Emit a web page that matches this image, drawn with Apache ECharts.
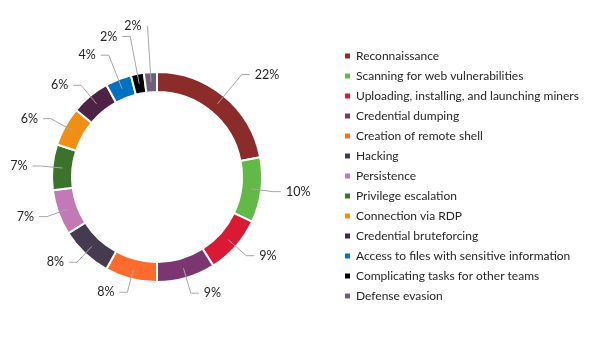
<!DOCTYPE html>
<html>
<head>
<meta charset="utf-8">
<script src="https://cdn.jsdelivr.net/npm/echarts@6/dist/echarts.min.js"></script>
<style>
  html, body { margin: 0; padding: 0; background: #fff; }
  #chart { width: 600px; height: 351px; }
</style>
</head>
<body>
<div id="chart"></div>
<script>
const categories = [
  'Reconnaissance',
  'Scanning for web vulnerabilities',
  'Uploading, installing, and launching miners',
  'Credential dumping',
  'Creation of remote shell',
  'Hacking',
  'Persistence',
  'Privilege escalation',
  'Connection via RDP',
  'Credential bruteforcing',
  'Access to files with sensitive information',
  'Complicating tasks for other teams',
  'Defense evasion'
]
const shares = [22, 10, 9, 9, 8, 8, 7, 7, 6, 6, 4, 2, 2]

const palette = [
  '#8b2c2a', '#62b946', '#da1a35', '#7b3570', '#ff6b2c', '#453a4e', '#c379b5',
  '#3a7329', '#f18f13', '#4d2244', '#0070c0', '#000000', '#6e6079'
]
// leader line segment lengths per slice
const leaderLen = [38, 22, 24, 26, 24, 22, 22, 22, 26, 24, 36, 48, 56]
const leaderLen2 = [8, 8, 8, 8, 8, 8, 8, 8, 8, 8, 8, 8, 1]

const chart = echarts.init(document.getElementById('chart'))
const font = 'Lato, Open Sans, sans-serif'
const center = [157, 177]

chart.setOption({
  animation: false,
  legend: {
    orient: 'vertical',
    left: 338,
    top: 45,
    icon: 'rect',
    itemWidth: 7,
    itemHeight: 7,
    itemGap: 8,
    textStyle: { fontFamily: font, fontSize: 12, color: '#262626', lineHeight: 12 },
    data: categories.map((name, i) => ({ name, itemStyle: { color: palette[i] } }))
  },
  series: [
    {
      type: 'pie',
      radius: [85, 105],
      center,
      startAngle: 90,
      clockwise: true,
      label: { show: false },
      labelLine: { show: false },
      itemStyle: { borderColor: '#fff', borderWidth: 2 },
      emphasis: { disabled: true },
      data: categories.map((name, i) => ({ name, value: shares[i], itemStyle: { color: palette[i] } }))
    },
    {
      // invisible pie at mid-ring, only to carry the labels + leader lines
      type: 'pie',
      radius: [0, 95],
      center,
      startAngle: 90,
      clockwise: true,
      silent: true,
      avoidLabelOverlap: false,
      z: 3,
      itemStyle: { color: 'rgba(0,0,0,0)' },
      label: {
        show: true,
        position: 'outside',
        formatter: '{c}%',
        fontFamily: font,
        fontSize: 12.5,
        color: '#262626'
      },
      labelLine: {
        show: true,
        length: 24,
        length2: 8,
        lineStyle: { color: '#a6a6a6', width: 1 }
      },
      emphasis: { disabled: true },
      data: categories.map((name, i) => ({
        name,
        value: shares[i],
        labelLine: { length: leaderLen[i], length2: leaderLen2[i] }
      }))
    }
  ]
})
</script>
</body>
</html>
